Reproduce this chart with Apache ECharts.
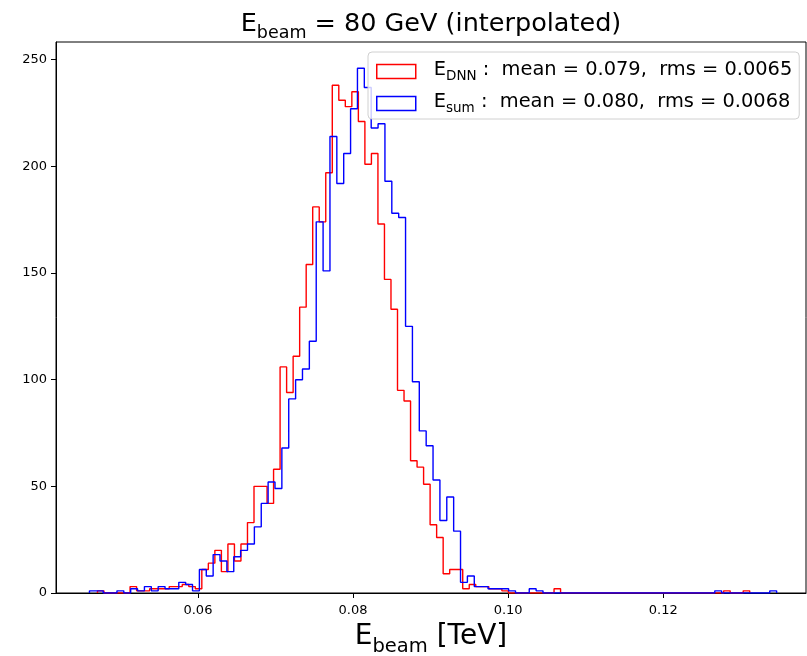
<!DOCTYPE html>
<html><head><meta charset="utf-8">
<script src="https://cdn.jsdelivr.net/npm/echarts@6/dist/echarts.min.js"></script>
<style>html,body{margin:0;padding:0;background:#fff}#c{width:807px;height:656px}</style>
</head><body><div id="c"></div>
<script>
// Histogram binning (each series binned over its own range, 100 bins)
const redStart = 0.047045, redWidth = 0.000841;
const blueStart = 0.046013, blueWidth = 0.000886;

const redCounts = [
  1,0,0,0,0,3,1,1,2,2,
  2,3,3,4,3,2,11,14,20,10,
  23,15,23,33,50,50,42,58,106,94,
  111,134,154,181,174,197,238,231,228,235,
  221,201,206,173,147,133,95,90,62,59,
  51,32,26,9,11,11,2,4,3,3,
  2,2,1,0,0,0,0,0,0,0,
  2,0,0,0,0,0,0,0,0,0,
  0,0,0,0,0,0,0,0,0,0,
  0,0,0,0,0,0,1,0,0,1
];
const blueCounts = [
  1,1,0,0,1,0,2,1,3,1,
  3,2,2,5,4,1,11,8,18,15,
  10,17,20,23,31,42,52,49,68,91,
  100,105,118,174,151,214,192,206,227,246,
  237,218,220,193,178,176,125,99,76,69,
  53,34,45,29,5,8,3,3,2,2,
  2,1,0,0,2,1,0,0,0,0,
  0,0,0,0,0,0,0,0,0,0,
  0,0,0,0,0,0,0,0,0,0,
  0,1,0,0,0,0,0,0,0,1
];
const xTicks = [0.06, 0.08, 0.10, 0.12];
const yTicks = [0, 50, 100, 150, 200, 250];
const xMin = 0.0417, xMax = 0.1384, yMax = 258.3;

function stepPoints(start, width, counts) {
  const pts = [[start, 0]];
  counts.forEach((c, i) => {
    pts.push([start + i * width, c]);
    pts.push([start + (i + 1) * width, c]);
  });
  pts.push([start + counts.length * width, 0]);
  return pts;
}

const FONT = 'DejaVu Sans';
const chart = echarts.init(document.getElementById('c'), null, {renderer: 'canvas'});
chart.setOption({
  animation: false,
  backgroundColor: '#fff',
  title: {
    text: '{m|E}{s|beam}{m| = 80 GeV (interpolated)}',
    left: 431, top: 11, textAlign: 'center', padding: 0,
    textStyle: {
      fontWeight: 'normal',
      rich: {
        m: {fontFamily: FONT, fontSize: 25.5, fontWeight: 'normal', color: '#000', lineHeight: 31, verticalAlign: 'top'},
        s: {fontFamily: FONT, fontSize: 17.5, fontWeight: 'normal', color: '#000', lineHeight: 18, verticalAlign: 'bottom'}
      }
    }
  },
  grid: {left: 56, right: 1, top: 42, bottom: 63, outerBoundsMode: 'none', containLabel: false,
         show: true, borderColor: '#000', borderWidth: 1, backgroundColor: 'transparent'},
  legend: {
    orient: 'vertical', left: 368, top: 52,
    padding: [8, 7, 4, 8], itemGap: 9, itemWidth: 39, itemHeight: 14,
    backgroundColor: 'rgba(255,255,255,0.8)', borderColor: '#d0d0d0', borderWidth: 1, borderRadius: 4,
    data: [
      {name: 'dnn', icon: 'rect', itemStyle: {color: 'rgba(0,0,0,0)', borderColor: 'red', borderWidth: 1.5}},
      {name: 'sum', icon: 'rect', itemStyle: {color: 'rgba(0,0,0,0)', borderColor: 'blue', borderWidth: 1.5}}
    ],
    formatter: function (n) {
      return n === 'dnn'
        ? '{g|}{m|E}{s|DNN}{m| :  mean = 0.079,  rms = 0.0065}'
        : '{g|}{m|E}{s|sum}{m| :  mean = 0.080,  rms = 0.0068}';
    },
    textStyle: {
      rich: {
        g: {width: 13},
        m: {fontFamily: FONT, fontSize: 19.4, color: '#000', lineHeight: 23, verticalAlign: 'top'},
        s: {fontFamily: FONT, fontSize: 13.5, color: '#000', lineHeight: 13.5, verticalAlign: 'bottom'}
      }
    }
  },
  xAxis: {
    type: 'value', min: xMin, max: xMax,
    axisLine: {show: true, onZero: false, lineStyle: {color: '#000', width: 1}},
    axisTick: {show: true, length: 5, customValues: xTicks, lineStyle: {color: '#000'}},
    axisLabel: {customValues: xTicks, formatter: v => v.toFixed(2), color: '#000', fontFamily: FONT, fontSize: 13, margin: 11},
    splitLine: {show: false},
    name: '{m|E}{s|beam}{m| [TeV]}', nameLocation: 'middle', nameGap: 30,
    nameTextStyle: {
      rich: {
        m: {fontFamily: FONT, fontSize: 28, color: '#000', lineHeight: 34, verticalAlign: 'top'},
        s: {fontFamily: FONT, fontSize: 19.5, color: '#000', lineHeight: 20, verticalAlign: 'bottom'}
      }
    }
  },
  yAxis: {
    type: 'value', min: 0, max: yMax,
    axisLine: {show: true, onZero: false, lineStyle: {color: '#000', width: 1}},
    axisTick: {show: true, length: 5, customValues: yTicks, lineStyle: {color: '#000'}},
    axisLabel: {customValues: yTicks, color: '#000', fontFamily: FONT, fontSize: 13, margin: 9},
    splitLine: {show: false}
  },
  series: [
    {name: 'dnn', type: 'line', data: stepPoints(redStart, redWidth, redCounts), showSymbol: false, symbol: 'none',
     lineStyle: {color: 'red', width: 1.4}, itemStyle: {color: 'red'}, z: 2},
    {name: 'sum', type: 'line', data: stepPoints(blueStart, blueWidth, blueCounts), showSymbol: false, symbol: 'none',
     lineStyle: {color: 'blue', width: 1.4}, itemStyle: {color: 'blue'}, z: 3}
  ]
});
</script>
</body></html>
